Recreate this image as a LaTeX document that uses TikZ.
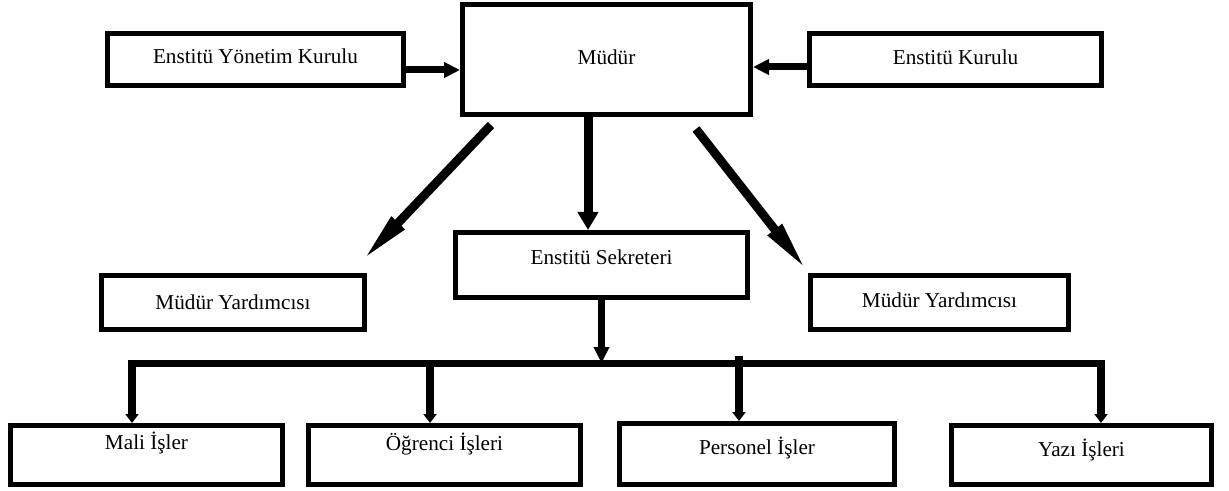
\documentclass[tikz,border=0pt]{standalone}
\usepackage{fontspec}
\setmainfont{Liberation Serif}
\usetikzlibrary{arrows.meta,calc}

\tikzset{
  kutu/.style={draw,line width=2.65pt,inner sep=0pt,
    font=\fontsize{10.6}{12}\selectfont,text height=7.5pt,text depth=2.5pt},
  ok/.style={line width=3.5pt,-{Triangle[length=8pt,width=7.5pt]}},
  kalin/.style={line width=4.5pt,-{Triangle[length=9pt,width=10pt]}},
  capraz/.style={line width=4.4pt,-{Triangle[length=27pt,width=8pt]}},
  hat/.style={line width=3.5pt},
  dal/.style={line width=4pt,-{Triangle[length=4.5pt,width=6.5pt]}}
}

\begin{document}
\begin{tikzpicture}[x=0.5pt,y=-0.5pt]
\useasboundingbox (0,0) rectangle (1229,491);

% ust sira
\node [kutu,minimum width=147.85pt,minimum height=25.85pt,text depth=3pt] (eyk) at (255.5,59.5) {Enstitü Yönetim Kurulu};
\node [kutu,minimum width=143.85pt,minimum height=54.85pt] (mudur) at (606.5,59.5) {Müdür};
\node [kutu,minimum width=145.85pt,minimum height=25.85pt,text depth=2pt] (ek) at (955.5,59.5) {Enstitü Kurulu};

% orta sira
\node [kutu,minimum width=131.35pt,minimum height=26.85pt,text depth=0.5pt] (myl) at (233,302.5) {Müdür Yardımcısı};
\node [kutu,minimum width=145.85pt,minimum height=32.35pt,text depth=8.5pt] (sek) at (601.5,265) {Enstitü Sekreteri};
\node [kutu,minimum width=128.85pt,minimum height=26.85pt,text depth=2.25pt] (myr) at (939.5,302.5) {Müdür Yardımcısı};

% alt sira
\node [kutu,minimum width=135.85pt,minimum height=29.35pt,text depth=13.5pt] (mali) at (146.5,455) {Mali İşler};
\node [kutu,minimum width=135.85pt,minimum height=29.35pt,text depth=12.5pt] (ogr) at (444.5,455) {Öğrenci İşleri};
\node [kutu,minimum width=137.35pt,minimum height=30.35pt,text depth=7.5pt] (per) at (757,454) {Personel İşler};
\node [kutu,minimum width=129.85pt,minimum height=29.35pt,text depth=6.5pt] (yazi) at (1081.5,455) {Yazı İşleri};

% oklar
\draw[ok] ([yshift=-5.25pt]eyk.east) -- ([yshift=-5.25pt]eyk.east -| mudur.west);
\draw[ok] ([yshift=-3.75pt]ek.west) -- ([yshift=-3.75pt]ek.west -| mudur.east);
\draw[kalin] ([xshift=-9.25pt]mudur.south) -- ([xshift=-9.25pt]mudur.south |- sek.north);
\draw[capraz] ($(mudur.south west)+(31,8)$) -- ($(myl.north east)+(-6,-11)$);
\draw[capraz] ($(mudur.south east)+(-57,12)$) -- ($(myr.north west)+(0,-1)$);

% sekreterlik birimleri
\coordinate (bas) at (128,363);
\coordinate (son) at (1105,363);
\draw[hat] (bas) -- (son);
\draw[ok] (sek.south) -- (sek.south |- bas);
\foreach \ad/\x/\y in {mali/132/363,ogr/430/363,per/739/356,yazi/1101/363}
{
  \coordinate (\ad-ust) at (\x,\y);
  \draw[dal] (\ad-ust) -- (\ad-ust |- \ad.north);
}
\end{tikzpicture}
\end{document}
